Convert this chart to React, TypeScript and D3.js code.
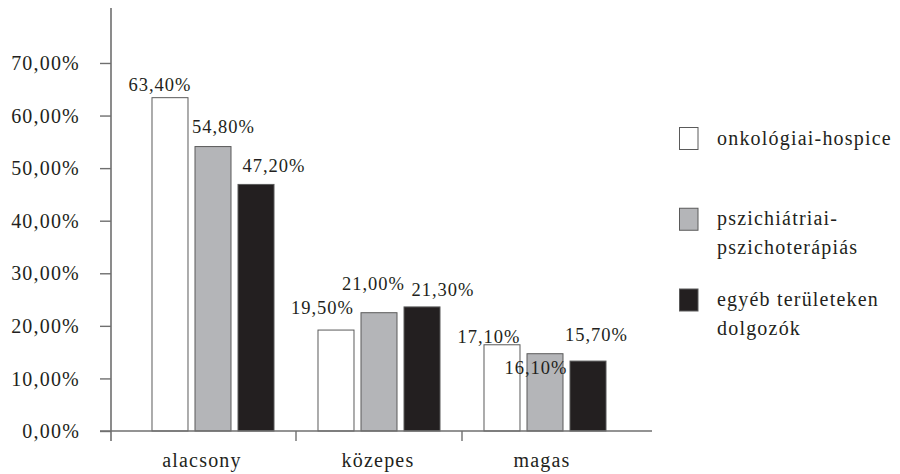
import { useEffect, useRef } from "react";
import * as d3 from "d3";

const width = 900;
const height = 474;

// categories and series (bar heights, label texts as printed)
const categories = ["alacsony", "közepes", "magas"];
const seriesNames = ["onkológiai-hospice", "pszichiátriai-pszichoterápiás", "egyéb területeken dolgozók"];
const onkologiai = [63.4, 19.2, 16.4];
const pszichiatriai = [54.1, 22.5, 14.7];
const egyeb = [46.9, 23.6, 13.3];
const onkologiaiLabels = ["63,40%", "19,50%", "17,10%"];
const pszichiatriaiLabels = ["54,80%", "21,00%", "16,10%"];
const egyebLabels = ["47,20%", "21,30%", "15,70%"];
const yTicks = [0, 10, 20, 30, 40, 50, 60, 70];
const legendLines = [["onkológiai-hospice"], ["pszichiátriai-", "pszichoterápiás"], ["egyéb területeken", "dolgozók"]];

const fills = ["#ffffff", "#b4b5b8", "#231f20"];
const font = "'Liberation Serif', 'Times New Roman', serif";

// hand placed value labels in the original: [dx, dy] from bar centre / bar top
const labelNudge = [
  [[-10, -6.5], [-13.5, -16], [-13, -1.5]],
  [[10.5, -14], [-5.5, -23], [-9, 20.5]],
  [[18, -12.5], [21, -10.5], [8.5, -20.5]],
];
const categoryNudge = [-11, -1, -3];

const App = () => {
  const svgRef = useRef<SVGSVGElement>(null);

  useEffect(() => {
    document.body.style.margin = "0";
    const values = [onkologiai, pszichiatriai, egyeb];
    const labels = [onkologiaiLabels, pszichiatriaiLabels, egyebLabels];

    const x0 = d3.scaleBand().domain(categories).range([130, 628]).paddingInner(0.265).paddingOuter(0.1325);
    const x1 = d3.scaleBand().domain(seriesNames).range([0, x0.bandwidth()]).paddingInner(0.163);
    const y = d3.scaleLinear().domain([0, 80]).range([431, 10.4]);

    const svg = d3.select(svgRef.current);
    svg.selectAll("*").remove();

    // y axis
    const yAxis = d3
      .axisLeft(y)
      .tickValues(yTicks)
      .tickSize(11)
      .tickPadding(20)
      .tickFormat((d) => `${(d as number).toFixed(2).replace(".", ",")}%`);
    const gy = svg.append("g").attr("transform", "translate(111,0)").call(yAxis);
    gy.select(".domain").remove();
    gy.selectAll(".tick line").attr("stroke", "#6f6f6f").attr("stroke-width", 1.4);
    gy.selectAll(".tick text")
      .attr("font-family", font)
      .attr("font-size", 20)
      .attr("letter-spacing", 1.2)
      .attr("fill", "#231f20")
      .attr("dy", "0.33em");
    svg.append("line")
      .attr("x1", 111).attr("x2", 111)
      .attr("y1", 8).attr("y2", 441)
      .attr("stroke", "#6f6f6f").attr("stroke-width", 1.6);

    // bars
    categories.forEach((cat, ci) => {
      seriesNames.forEach((s, si) => {
        const v = values[si][ci];
        const bx = (x0(cat) ?? 0) + (x1(s) ?? 0);
        svg.append("rect")
          .attr("x", bx)
          .attr("y", y(v))
          .attr("width", x1.bandwidth())
          .attr("height", y(0) - y(v))
          .attr("fill", fills[si])
          .attr("stroke", "#5a5a5a")
          .attr("stroke-width", 1);
      });
    });

    // x axis
    svg.append("line")
      .attr("x1", 100).attr("x2", 652)
      .attr("y1", 431).attr("y2", 431)
      .attr("stroke", "#6f6f6f").attr("stroke-width", 1.6);
    categories.slice(1).forEach((cat) => {
      const tx = (x0(cat) ?? 0) - (x0.step() - x0.bandwidth()) / 2;
      svg.append("line")
        .attr("x1", tx).attr("x2", tx)
        .attr("y1", 431).attr("y2", 441)
        .attr("stroke", "#6f6f6f").attr("stroke-width", 1.4);
    });
    categories.forEach((cat, ci) => {
      svg.append("text")
        .attr("x", (x0(cat) ?? 0) + x0.bandwidth() / 2 + categoryNudge[ci])
        .attr("y", 467)
        .attr("text-anchor", "middle")
        .attr("font-family", font)
        .attr("font-size", 20)
        .attr("letter-spacing", 1.2)
        .attr("fill", "#231f20")
        .text(cat);
    });

    // value labels
    categories.forEach((cat, ci) => {
      seriesNames.forEach((s, si) => {
        const v = values[si][ci];
        const cx = (x0(cat) ?? 0) + (x1(s) ?? 0) + x1.bandwidth() / 2;
        const [dx, dy] = labelNudge[si][ci];
        svg.append("text")
          .attr("x", cx + dx)
          .attr("y", y(v) + dy)
          .attr("text-anchor", "middle")
          .attr("font-family", font)
          .attr("font-size", 18.5)
          .attr("letter-spacing", 1)
          .attr("fill", "#231f20")
          .text(labels[si][ci]);
      });
    });

    // legend
    const ly = d3.scalePoint().domain(seriesNames).range([127.5, 289]);
    seriesNames.forEach((s, si) => {
      const top = ly(s) ?? 0;
      svg.append("rect")
        .attr("x", 679.5).attr("y", top)
        .attr("width", 18.5).attr("height", 22)
        .attr("fill", fills[si])
        .attr("stroke", "#5a5a5a")
        .attr("stroke-width", 1);
      const t = svg.append("text")
        .attr("font-family", font)
        .attr("font-size", 20)
        .attr("letter-spacing", 1.2)
        .attr("fill", "#231f20");
      legendLines[si].forEach((line, li) => {
        t.append("tspan").attr("x", 717).attr("y", top + 17 + li * 28.5).text(line);
      });
    });
  }, []);

  return <svg ref={svgRef} width={width} height={height} style={{ display: "block", background: "#fff" }} />;
};

export default App;
